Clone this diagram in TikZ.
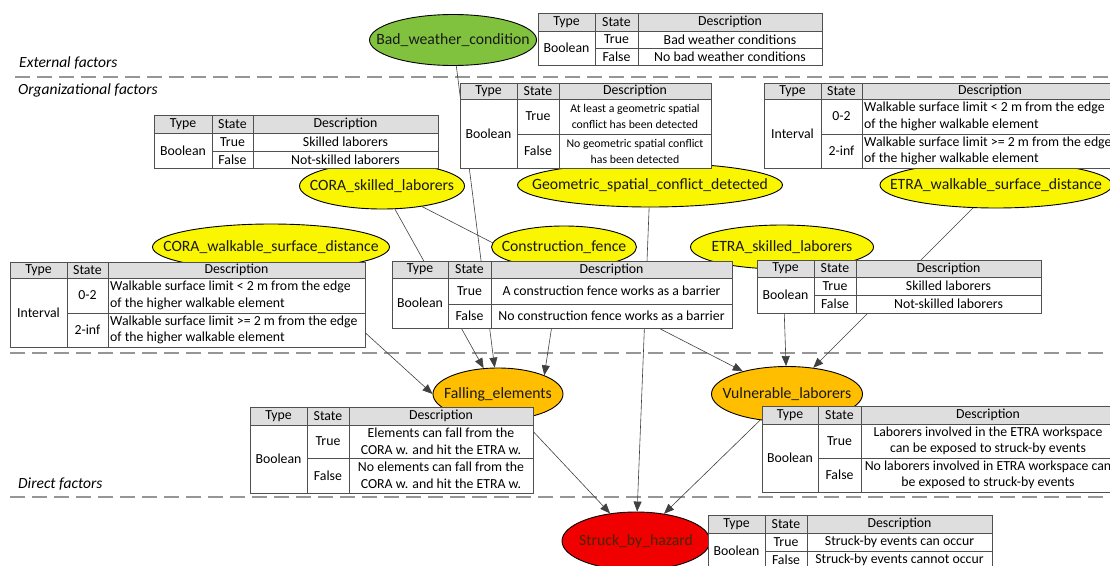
\documentclass[tikz,border=0pt]{standalone}
\usepackage{fontspec}
\setmainfont{Carlito}
\usetikzlibrary{arrows.meta,shapes.geometric,calc}
\pgfdeclarelayer{bglayer}
\pgfdeclarelayer{edgelayer}
\pgfsetlayers{bglayer,edgelayer,main}

\definecolor{cgreen}{RGB}{128,194,62}
\definecolor{cyellow}{RGB}{250,245,0}
\definecolor{corange}{RGB}{255,190,0}
\definecolor{cred}{RGB}{240,0,0}
\definecolor{tlinecol}{RGB}{80,80,80}
\definecolor{thead}{RGB}{222,222,222}
\definecolor{sepgray}{RGB}{150,150,150}
\definecolor{redtext}{RGB}{70,40,0}

\tikzset{
  ell/.style={ellipse, draw=black, line width=0.9pt, inner sep=0pt,
    font=\fontsize{15.7}{18}\selectfont, text=black!90},
  link/.style={draw=black!75, line width=0.6pt, -{Triangle[length=10pt,width=8pt]}},
  tbl/.style={draw=tlinecol, line width=0.9pt},
  tcell/.style={inner sep=0pt, font=\fontsize{13.8}{16.5}\selectfont, align=center, text=black},
  tcellD/.style={tcell},
  tcellL/.style={tcell, align=left, anchor=west},
  sepline/.style={draw=sepgray, line width=1.8pt, dash pattern=on 15pt off 7pt},
  factor/.style={font=\fontsize{15.5}{18}\selectfont\itshape, anchor=west, inner sep=0pt}
}

% grid: x0 x1 x2 x3 y0 y1 y2 y3 name
\newcommand{\tgrid}[9]{%
  \fill[white] (#1,#5) rectangle (#4,#8);
  \fill[thead] (#1,#5) rectangle (#4,#6);
  \draw[tbl] (#1,#5) rectangle (#4,#8);
  \draw[tbl] (#1,#6) -- (#4,#6);
  \draw[tbl] (#2,#7) -- (#4,#7);
  \draw[tbl] (#2,#5) -- (#2,#8);
  \draw[tbl] (#3,#5) -- (#3,#8);
  \coordinate (#9-th) at ({(#1+#2)/2},{(#5+#6)/2});
  \coordinate (#9-sh) at ({(#2+#3)/2},{(#5+#6)/2});
  \coordinate (#9-dh) at ({(#3+#4)/2},{(#5+#6)/2});
  \coordinate (#9-tb) at ({(#1+#2)/2},{(#6+#8)/2});
  \coordinate (#9-s1) at ({(#2+#3)/2},{(#6+#7)/2});
  \coordinate (#9-s2) at ({(#2+#3)/2},{(#7+#8)/2});
  \coordinate (#9-d1) at ({(#3+#4)/2},{(#6+#7)/2});
  \coordinate (#9-d2) at ({(#3+#4)/2},{(#7+#8)/2});
  \coordinate (#9-l1) at ({#3+2},{(#6+#7)/2});
  \coordinate (#9-l2) at ({#3+2},{(#7+#8)/2});
}
% name type s1 d1 s2 d2  (centered descriptions)
\newcommand{\tcells}[6]{%
  \node[tcell] (#1-nth) at (#1-th) {Type};
  \node[tcell] (#1-nsh) at (#1-sh) {State};
  \node[tcell] (#1-ndh) at (#1-dh) {Description};
  \node[tcell] (#1-ntb) at (#1-tb) {#2};
  \node[tcell] (#1-ns1) at (#1-s1) {#3};
  \node[tcellD] (#1-nd1) at (#1-d1) {#4};
  \node[tcell] (#1-ns2) at (#1-s2) {#5};
  \node[tcellD] (#1-nd2) at (#1-d2) {#6};
}
% left-aligned descriptions
\newcommand{\tcellsL}[6]{%
  \node[tcell] (#1-nth) at (#1-th) {Type};
  \node[tcell] (#1-nsh) at (#1-sh) {State};
  \node[tcell] (#1-ndh) at (#1-dh) {Description};
  \node[tcell] (#1-ntb) at (#1-tb) {#2};
  \node[tcell] (#1-ns1) at (#1-s1) {#3};
  \node[tcellL] (#1-nd1) at (#1-l1) {#4};
  \node[tcell] (#1-ns2) at (#1-s2) {#5};
  \node[tcellL] (#1-nd2) at (#1-l2) {#6};
}

\begin{document}
\begin{tikzpicture}[x=1pt,y=-1pt]
\useasboundingbox (0,0) rectangle (1110,565);
\clip (0,0) rectangle (1110,565);

% separators and section labels
\begin{pgfonlayer}{bglayer}
  \coordinate (s1a) at (15,77);  \coordinate (s1b) at (1112,77);
  \coordinate (s2a) at (10,353); \coordinate (s2b) at (1112,353);
  \coordinate (s3a) at (10,497); \coordinate (s3b) at (1112,497);
  \draw[sepline] (s1a) -- (s1b);
  \draw[sepline] (s2a) -- (s2b);
  \draw[sepline] (s3a) -- (s3b);
\end{pgfonlayer}
\node[factor] (ext) at (19,63) {External factors};
\node[factor] (org) at (18,90) {Organizational factors};
\node[factor] (dir) at (18,484) {Direct factors};

% ellipses
\node[ell, fill=cgreen, minimum width=167pt, minimum height=51pt] (bad) at (453,40) {\makebox[0pt]{Bad\_weather\_condition}};
\node[ell, fill=cyellow, minimum width=165pt, minimum height=46pt] (coraS) at (382,186) {\makebox[0pt]{CORA\_skilled\_laborers}};
\node[ell, fill=cyellow, minimum width=265pt, minimum height=44pt] (geo) at (650,185) {\makebox[0pt]{Geometric\_spatial\_conflict\_detected}};
\node[ell, fill=cyellow, minimum width=232pt, minimum height=46pt] (etraW) at (996,185) {\makebox[0pt]{ETRA\_walkable\_surface\_distance}};
\node[ell, fill=cyellow, minimum width=237pt, minimum height=46pt] (coraW) at (271,247) {\makebox[0pt]{CORA\_walkable\_surface\_distance}};
\node[ell, fill=cyellow, minimum width=145pt, minimum height=42pt] (fence) at (564,247) {\makebox[0pt]{Construction\_fence}};
\node[ell, fill=cyellow, minimum width=183pt, minimum height=44pt] (etraS) at (782,247) {\makebox[0pt]{ETRA\_skilled\_laborers}};
\node[ell, fill=corange, minimum width=130pt, minimum height=52pt] (fall) at (498,394) {\makebox[0pt]{Falling\_elements}};
\node[ell, fill=corange, minimum width=151pt, minimum height=55pt] (vuln) at (787,394) {\makebox[0pt]{Vulnerable\_laborers}};
\node[ell, fill=cred, text=redtext, minimum width=148pt, minimum height=58pt] (struck) at (636,541) {\makebox[0pt]{Struck\_by\_hazard}};

% connectors
\begin{pgfonlayer}{edgelayer}
  \draw[link] (bad) -- (fall);
  \draw[link] (coraS) -- (fall);
  \draw[link] (coraW) -- (fall.west);
  \draw[link] (fence) -- (fall.north east);
  \draw[link] (coraS) -- (vuln);
  \draw[link] (etraS) -- (vuln);
  \draw[link] (etraW) -- (vuln);
  \draw[link] (geo) -- (struck);
  \draw[link] (fall) -- (struck);
  \draw[link] (vuln) -- (struck);
\end{pgfonlayer}

% tables
\tgrid{538}{595}{638}{822}{13}{31}{48}{65}{tA}
\tcells{tA}{Boolean}{True}{Bad weather conditions}{False}{No bad weather conditions}

\tgrid{154}{212}{253}{438}{115}{133}{151}{168}{tB}
\tcells{tB}{Boolean}{True}{Skilled laborers}{False}{Not-skilled laborers}

\begin{scope}[tcellD/.style={tcell, font=\fontsize{11.8}{16}\selectfont}]
\tgrid{460}{517}{559}{711}{83}{99}{134}{168}{tC}
\tcells{tC}{Boolean}{True}{At least a geometric spatial\\conflict has been detected}{False}{No geometric spatial conflict\\has been detected}
\end{scope}

\tgrid{764}{821}{862}{1118}{83}{99}{134}{168}{tD}
\tcellsL{tD}{Interval}{0-2}{Walkable surface limit < 2 m from the edge\\of the higher walkable element}{2-inf}{Walkable surface limit >= 2 m from the edge\\of the higher walkable element}

\tgrid{10}{67}{108}{365}{262}{278}{313}{347}{tE}
\tcellsL{tE}{Interval}{0-2}{Walkable surface limit < 2 m from the edge\\of the higher walkable element}{2-inf}{Walkable surface limit >= 2 m from the edge\\of the higher walkable element}

\tgrid{392}{448}{491}{732}{261}{278}{304}{328}{tF}
\tcells{tF}{Boolean}{True}{A construction fence works as a barrier}{False}{No construction fence works as a barrier}

\tgrid{757}{814}{856}{1041}{260}{277}{295}{313}{tG}
\tcells{tG}{Boolean}{True}{Skilled laborers}{False}{Not-skilled laborers}

\tgrid{250}{307}{349}{533}{407}{425}{458}{493}{tH}
\tcells{tH}{Boolean}{True}{Elements can fall from the\\CORA w. and hit the ETRA w.}{False}{No elements can fall from the\\CORA w. and hit the ETRA w.}

\tgrid{762}{818}{861}{1115}{406}{424}{458}{492}{tI}
\tcells{tI}{Boolean}{True}{Laborers involved in the ETRA workspace\\can be exposed to struck-by events}{False}{No laborers involved in ETRA workspace can\\be exposed to struck-by events}

\tgrid{708}{765}{807}{992}{515}{533}{551}{569}{tJ}
\tcells{tJ}{Boolean}{True}{Struck-by events can occur}{False}{Struck-by events cannot occur}
\end{tikzpicture}
\end{document}
